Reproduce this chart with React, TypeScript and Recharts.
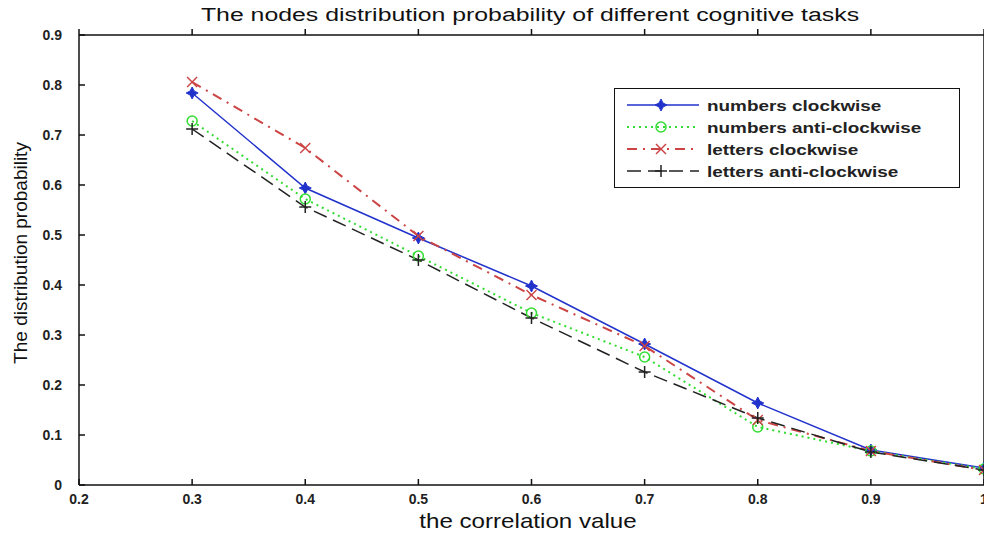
import { LineChart, Line, XAxis, YAxis, Label } from 'recharts';

const correlation = [0.3, 0.4, 0.5, 0.6, 0.7, 0.8, 0.9, 1.0];
const numbersClockwise = [0.784, 0.594, 0.494, 0.398, 0.282, 0.164, 0.07, 0.034];
const numbersAntiClockwise = [0.728, 0.572, 0.458, 0.344, 0.256, 0.116, 0.068, 0.032];
const lettersClockwise = [0.806, 0.674, 0.498, 0.38, 0.278, 0.13, 0.068, 0.03];
const lettersAntiClockwise = [0.712, 0.556, 0.45, 0.334, 0.226, 0.134, 0.066, 0.03];

const xTicks = [0.2, 0.3, 0.4, 0.5, 0.6, 0.7, 0.8, 0.9, 1.0];
const yTicks = [0, 0.1, 0.2, 0.3, 0.4, 0.5, 0.6, 0.7, 0.8, 0.9];

const data = correlation.map((x, i) => ({
  x,
  nc: numbersClockwise[i],
  na: numbersAntiClockwise[i],
  lc: lettersClockwise[i],
  la: lettersAntiClockwise[i],
}));

const FONT = '"Liberation Sans", Arial, sans-serif';

type Marker = 'star' | 'circle' | 'x' | 'plus';

function drawMarker(kind: Marker, cx: number, cy: number, color: string, key?: string) {
  if (kind === 'star') {
    return (
      <g key={key}>
        <path d={`M${cx} ${cy - 6} L${cx + 2} ${cy - 2} L${cx + 6} ${cy} L${cx + 2} ${cy + 2} L${cx} ${cy + 6} L${cx - 2} ${cy + 2} L${cx - 6} ${cy} L${cx - 2} ${cy - 2} Z`} fill={color} stroke={color} strokeWidth={1} />
      </g>
    );
  }
  if (kind === 'circle') {
    return <circle key={key} cx={cx} cy={cy} r={5} fill="none" stroke={color} strokeWidth={1.5} />;
  }
  if (kind === 'x') {
    return (
      <g key={key} stroke={color} strokeWidth={1.5}>
        <line x1={cx - 5} y1={cy - 5} x2={cx + 5} y2={cy + 5} />
        <line x1={cx - 5} y1={cy + 5} x2={cx + 5} y2={cy - 5} />
      </g>
    );
  }
  return (
    <g key={key} stroke={color} strokeWidth={1.5}>
      <line x1={cx - 6} y1={cy} x2={cx + 6} y2={cy} />
      <line x1={cx} y1={cy - 6} x2={cx} y2={cy + 6} />
    </g>
  );
}

const series = [
  { key: 'nc', name: 'numbers clockwise', color: '#2233cc', dash: undefined, width: 1.5, marker: 'star' as Marker },
  { key: 'na', name: 'numbers anti-clockwise', color: '#33dd33', dash: '2 4', width: 2, marker: 'circle' as Marker },
  { key: 'lc', name: 'letters clockwise', color: '#cc4444', dash: '10 6 2 6', width: 2, marker: 'x' as Marker },
  { key: 'la', name: 'letters anti-clockwise', color: '#222222', dash: '14 7', width: 1.5, marker: 'plus' as Marker },
];

const tickStyle = { fill: '#222', fontSize: 14, fontWeight: 'bold' as const, fontFamily: FONT };

export default function App() {
  return (
    <div style={{ position: 'absolute', left: 0, top: 0, width: 984, height: 535, overflow: 'hidden', background: '#fff', fontFamily: FONT }}>
      <LineChart width={1000} height={535} data={data} margin={{ top: 0, right: 0, left: 0, bottom: 0 }}>
        <XAxis
          xAxisId="bottom"
          dataKey="x"
          type="number"
          domain={[0.2, 1]}
          ticks={xTicks}
          orientation="bottom"
          height={50}
          tickSize={-6}
          tickMargin={15}
          tick={tickStyle}
          tickFormatter={(v) => (v === 1 ? '1' : v.toFixed(1))}
          axisLine={{ stroke: '#111', strokeWidth: 1.5 }}
          tickLine={{ stroke: '#111', strokeWidth: 1.5 }}
          interval={0}
        />
        <XAxis
          xAxisId="top"
          dataKey="x"
          type="number"
          domain={[0.2, 1]}
          ticks={xTicks}
          orientation="top"
          height={35}
          tickSize={6}
          tickFormatter={() => ''}
          axisLine={{ stroke: '#111', strokeWidth: 1.5 }}
          tickLine={{ stroke: '#111', strokeWidth: 1.5 }}
          interval={0}
        />
        <YAxis
          yAxisId="left"
          type="number"
          domain={[0, 0.9]}
          ticks={yTicks}
          orientation="left"
          width={79}
          tickSize={-6}
          tickMargin={23}
          tick={tickStyle}
          tickFormatter={(v) => (v === 0 ? '0' : v.toFixed(1))}
          axisLine={{ stroke: '#111', strokeWidth: 1.5 }}
          tickLine={{ stroke: '#111', strokeWidth: 1.5 }}
          interval={0}
        >
          <Label value="The distribution probability" angle={-90} position="insideLeft" offset={20} dy={-7} style={{ fill: '#111', fontSize: 19, fontFamily: FONT, textAnchor: 'middle' }} />
        </YAxis>
        <YAxis
          yAxisId="right"
          type="number"
          domain={[0, 0.9]}
          ticks={yTicks}
          orientation="right"
          width={16}
          tickSize={6}
          tickFormatter={() => ''}
          axisLine={{ stroke: '#111', strokeWidth: 1.5 }}
          tickLine={{ stroke: '#111', strokeWidth: 1.5 }}
          interval={0}
        />
        {series.map((s) => (
          <Line
            key={s.key}
            xAxisId="bottom"
            yAxisId="left"
            dataKey={s.key}
            name={s.name}
            type="linear"
            stroke={s.color}
            strokeWidth={s.width}
            strokeDasharray={s.dash}
            isAnimationActive={false}
            dot={(p: any) => drawMarker(s.marker, p.cx, p.cy, s.color, `${s.key}-${p.index}`)}
            activeDot={false}
          />
        ))}
      </LineChart>
      {/* title and x label are stretched sideways like the source figure */}
      <div style={{ position: 'absolute', left: 530, top: 5, transform: 'translateX(-50%) scaleX(1.38)', whiteSpace: 'nowrap', fontSize: 18, color: '#111' }}>
        The nodes distribution probability of different cognitive tasks
      </div>
      <div style={{ position: 'absolute', left: 528, top: 509, transform: 'translateX(-50%) scaleX(1.15)', whiteSpace: 'nowrap', fontSize: 21, color: '#111' }}>
        the correlation value
      </div>
      <div style={{ position: 'absolute', left: 614, top: 88, width: 346, height: 100, border: '1.5px solid #111', background: '#fff', boxSizing: 'border-box', paddingTop: 5 }}>
        {series.map((s) => (
          <div key={s.key} style={{ display: 'flex', alignItems: 'center', height: 22 }}>
            <svg width={92} height={20} style={{ flex: 'none' }}>
              <line x1={12} y1={10} x2={84} y2={10} stroke={s.color} strokeWidth={s.width} strokeDasharray={s.dash} />
              {drawMarker(s.marker, 46, 10, s.color)}
            </svg>
            <span style={{ display: 'inline-block', whiteSpace: 'nowrap', transform: 'scaleX(1.26)', transformOrigin: 'left center', fontSize: 15, fontWeight: 'bold', color: '#222', fontFamily: FONT }}>{s.name}</span>
          </div>
        ))}
      </div>
    </div>
  );
}
